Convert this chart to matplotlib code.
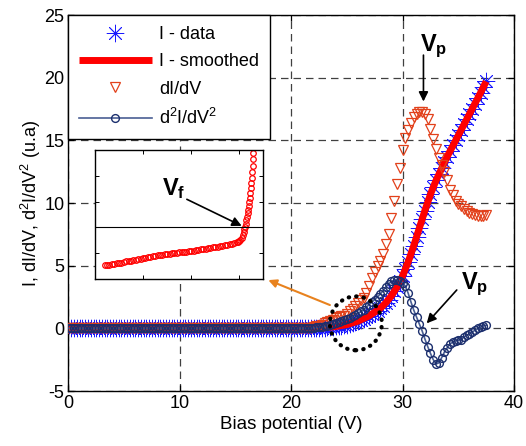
import numpy as np
import matplotlib
matplotlib.use('Agg')
import matplotlib.pyplot as plt
from matplotlib.patches import Ellipse

plt.rcParams['font.family'] = ['Liberation Sans', 'DejaVu Sans']
plt.rcParams['mathtext.fontset'] = 'custom'
plt.rcParams['mathtext.rm'] = 'Liberation Sans'
plt.rcParams['mathtext.it'] = 'Liberation Sans:italic'
plt.rcParams['mathtext.bf'] = 'Liberation Sans:bold'
plt.rcParams['axes.unicode_minus'] = False

# ---------------- data ----------------
V_flat = np.arange(0.0, 22.0, 0.25)         # 88 samples, flat baseline
I_flat = [0.0] * 88
dIdV_flat = [0.0] * 88
d2_flat = [0.0] * 88

V_rise = np.arange(22.0, 37.51, 0.25)      # 63 samples
I_rise = [0.00, 0.01, 0.02, 0.03, 0.05, 0.07, 0.10, 0.12, 0.15, 0.18,
          0.22, 0.26, 0.30, 0.36, 0.42, 0.50, 0.58, 0.68, 0.78, 0.89,
          1.00, 1.12, 1.25, 1.42, 1.60, 1.82, 2.05, 2.30, 2.60, 2.95,
          3.30, 3.75, 4.20, 4.75, 5.30, 5.95, 6.60, 7.30, 8.00, 8.70,
          9.40, 10.05, 10.70, 11.25, 11.80, 12.30, 12.80, 13.25, 13.70, 14.15,
          14.60, 15.00, 15.40, 15.85, 16.30, 16.70, 17.10, 17.50, 17.90, 18.35,
          18.80, 19.25, 19.70]
dIdV_rise = [0.10, 0.15, 0.20, 0.30, 0.40, 0.50, 0.60, 0.70, 0.80, 0.88,
             0.95, 1.00, 1.15, 1.35, 1.55, 1.75, 2.00, 2.25, 2.45, 2.80,
             3.40, 4.00, 4.50, 5.00, 5.40, 5.90, 6.70, 7.50, 8.80, 10.20,
             11.50, 12.80, 14.20, 15.20, 15.80, 16.40, 16.90, 17.10, 17.25, 17.30,
             17.10, 16.70, 15.90, 15.10, 14.30, 13.60, 13.00, 12.50, 11.80, 11.00,
             10.60, 10.20, 9.95, 9.75, 9.50, 9.35, 9.20, 9.10, 9.05, 9.00,
             9.00, 9.00, 9.05]
d2_rise = [0.05, 0.07, 0.10, 0.12, 0.15, 0.20, 0.25, 0.32, 0.40, 0.48,
           0.56, 0.65, 0.75, 0.85, 0.97, 1.08, 1.20, 1.35, 1.50, 1.70,
           1.90, 2.10, 2.30, 2.50, 2.75, 3.00, 3.30, 3.55, 3.75, 3.85,
           3.85, 3.80, 3.65, 3.35, 2.80, 2.10, 1.45, 0.90, 0.35, -0.20,
           -0.85, -1.45, -2.00, -2.50, -2.85, -2.75, -2.35, -1.90, -1.55, -1.25,
           -1.10, -1.00, -0.95, -0.90, -0.70, -0.55, -0.45, -0.30, -0.15, 0.00,
           0.10, 0.20, 0.25]

V_smooth = [0.0, 22.0, 23.0, 24.0, 25.0, 26.0, 27.0, 28.0, 28.5, 29.0, 29.5,
            30.0, 30.5, 31.0, 31.5, 32.0, 32.5, 33.0, 34.0, 35.0, 36.0, 37.0, 37.5]
I_smooth = [0.0, 0.0, 0.05, 0.15, 0.30, 0.58, 1.00, 1.60, 2.05, 2.60, 3.30,
            4.20, 5.30, 6.60, 8.00, 9.40, 10.70, 11.80, 13.70, 15.40, 17.10, 18.80, 19.70]

# inset (floating potential detail)
inset_x = [2.0, 2.5, 3.0, 3.5, 4.0, 4.5, 5.0, 5.5, 6.0, 6.5, 7.0, 7.5, 8.0, 8.5,
           9.0, 9.5, 10.0, 10.5, 11.0, 11.5, 12.0, 12.5, 13.0, 13.5, 14.0, 14.5,
           15.0, 15.5, 16.0, 16.5, 17.0, 17.5, 18.0, 18.5, 19.0, 19.5, 20.0, 20.5,
           21.0, 21.5, 22.0, 22.5, 23.0, 23.5, 24.0, 24.5, 25.0, 25.5, 26.0, 26.5,
           27.0, 27.5, 28.0, 28.5, 29.0, 29.5, 29.75, 30.0, 30.25, 30.5, 30.7, 30.9,
           31.05, 31.2, 31.35, 31.5, 31.65, 31.8, 31.9, 32.0, 32.1, 32.2, 32.3, 32.4,
           32.5, 32.6, 32.7, 32.8, 32.85, 32.9]
inset_y = [-1.47, -1.45, -1.44, -1.42, -1.41, -1.39, -1.38, -1.36, -1.34, -1.32,
           -1.31, -1.29, -1.27, -1.25, -1.23, -1.22, -1.20, -1.18, -1.16, -1.14,
           -1.12, -1.10, -1.08, -1.07, -1.06, -1.04, -1.03, -1.02, -1.00, -0.99,
           -0.98, -0.97, -0.96, -0.95, -0.94, -0.92, -0.91, -0.90, -0.88, -0.87,
           -0.85, -0.84, -0.82, -0.80, -0.79, -0.77, -0.76, -0.74, -0.72, -0.71,
           -0.69, -0.67, -0.65, -0.63, -0.61, -0.58, -0.56, -0.52, -0.47, -0.40,
           -0.30, -0.18, -0.07, 0.03, 0.15, 0.28, 0.42, 0.55, 0.68, 0.82,
           0.98, 1.15, 1.33, 1.52, 1.72, 1.92, 2.15, 2.40, 2.65, 2.88]

xticks = [0, 10, 20, 30, 40]
yticks = [-5, 0, 5, 10, 15, 20, 25]

V_all = np.concatenate([V_flat, V_rise])
I_data = np.concatenate([I_flat, I_rise])
dIdV = np.concatenate([dIdV_flat, dIdV_rise])
d2IdV2 = np.concatenate([d2_flat, d2_rise])

# ---------------- figure ----------------
fig = plt.figure(figsize=(5.26, 4.46), dpi=100)
ax = fig.add_axes([0.1302, 0.1233, 0.847, 0.843])

blue = '#1a1aff'
orange_red = '#e2411b'
navy = '#1c2f6e'

l1, = ax.plot(V_all, I_data, linestyle='none', marker=(8, 2, 0), ms=12.5,
              mec=blue, mew=0.6, color=blue, zorder=2, label='I - data')
l2, = ax.plot(V_smooth, I_smooth, '-', color='#ff0000', lw=5.0,
              solid_capstyle='butt', zorder=3, label='I - smoothed')
l3, = ax.plot(V_all, dIdV, linestyle='none', marker='v', ms=7.5, mfc='none',
              mec=orange_red, mew=0.9, zorder=4, label='dI/dV')
l4, = ax.plot(V_all, d2IdV2, '-', color='#4a5f94', lw=1.2, marker='o', ms=5.6,
              mfc='none', mec=navy, mew=1.0, zorder=5,
              label=r'd$^2$I/dV$^2$')

ax.set_xlim(0, 40)
ax.set_ylim(-5, 25)
ax.set_xticks(xticks)
ax.set_yticks(yticks)
ax.tick_params(direction='in', length=4, width=0.9, top=True, right=True,
               labelsize=13, pad=3)
for s in ax.spines.values():
    s.set_linewidth(1.0)
ax.grid(True, linestyle=(0, (6, 4)), color='#404040', lw=0.9)
ax.set_axisbelow(True)

ax.set_xlabel('Bias potential (V)', fontsize=13.5, labelpad=3)
ax.set_ylabel(r'I, dI/dV, d$^2$I/dV$^2$ (u.a)', fontsize=13, labelpad=1)

leg = ax.legend(handles=[l1, l2, l3, l4], loc='upper left',
                bbox_to_anchor=(0, 1), borderaxespad=0, fancybox=False,
                edgecolor='black', framealpha=1, fontsize=13, numpoints=1,
                handlelength=4.0, handletextpad=0.4, labelspacing=0.58,
                borderpad=0.6)
leg.get_frame().set_linewidth(1.0)
leg.set_zorder(10)

# annotations
ax.text(32.77, 22.5, r'$\mathbf{V_p}$', fontsize=17, ha='center', va='center')
ax.annotate('', xy=(31.87, 18.1), xytext=(31.87, 21.8),
            arrowprops=dict(arrowstyle='-|>', color='k', lw=1.2,
                            mutation_scale=14, shrinkA=0, shrinkB=0))
ax.text(36.5, 3.5, r'$\mathbf{V_p}$', fontsize=17, ha='center', va='center')
ax.annotate('', xy=(32.16, 0.4), xytext=(34.86, 3.06),
            arrowprops=dict(arrowstyle='-|>', color='k', lw=1.2,
                            mutation_scale=14, shrinkA=0, shrinkB=0))
ell = Ellipse((25.8, 0.4), 4.67, 4.3, fill=False, edgecolor='k', lw=3.0,
              linestyle=(0, (0.1, 1.7)), zorder=6)
ell.set_capstyle('round')
ax.add_patch(ell)
ax.annotate('', xy=(17.94, 3.85), xytext=(23.47, 1.86),
            arrowprops=dict(arrowstyle='-|>', color='#e8821e', lw=1.5,
                            mutation_scale=12, shrinkA=0, shrinkB=0))

# inset
axin = fig.add_axes([0.1806, 0.3744, 0.32, 0.2892])
axin.plot(inset_x, inset_y, linestyle='none', marker='o', ms=4.0, mfc='none',
          mec='#ff0000', mew=0.9)
axin.axhline(0, color='k', lw=0.8)
axin.set_xlim(0, 35)
axin.set_ylim(-2, 3)
axin.set_xticks([10, 20, 30])
axin.set_yticks([-1, 0, 1, 2])
axin.tick_params(direction='in', length=3, width=0.7, top=True, right=True,
                 labelbottom=False, labelleft=False)
for s in axin.spines.values():
    s.set_linewidth(1.0)
axin.text(16.3, 1.52, r'$\mathbf{V_f}$', fontsize=17, ha='center', va='center')
axin.annotate('', xy=(30.5, 0.06), xytext=(19.1, 1.09),
              arrowprops=dict(arrowstyle='-|>', color='k', lw=1.2,
                              mutation_scale=14, shrinkA=0, shrinkB=0))

fig.savefig('out.png', dpi=100)
